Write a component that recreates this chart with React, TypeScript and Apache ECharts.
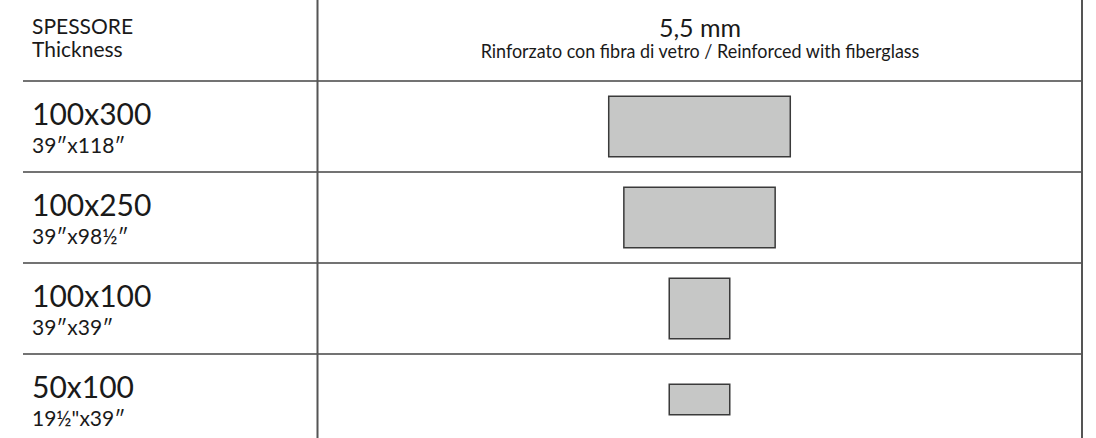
import React, { useEffect, useRef } from "react";
import * as echarts from "echarts";

const sizesMetric = ["100x300", "100x250", "100x100", "50x100"];
const sizesImperial = ["39″x118″", "39″x98½″", "39″x39″", "19½\"x39″"];
const heightsCm = [100, 100, 100, 50];
const widthsCm = [300, 250, 100, 100];

const headerLeft = ["SPESSORE", "Thickness"];
const headerTitle = "5,5 mm";
const headerSubtitle = "Rinforzato con fibra di vetro / Reinforced with fiberglass";

const FONT = "Lato";
const INK = "#1a1a1a";

export default function App() {
  const ref = useRef<HTMLDivElement>(null);
  useEffect(() => {
    if (!ref.current) return;
    const chart = echarts.init(ref.current, undefined, { renderer: "svg" });
    const rows = sizesMetric.map((_, i) => [0, i, widthsCm[i], heightsCm[i]]);
    const hLines = [81, 172, 263, 354].map((y) => ({
      type: "line",
      shape: { x1: 23, y1: y, x2: 1082, y2: y },
      style: { stroke: "#444", lineWidth: 1.5 },
      silent: true,
    }));
    const vLines = [317.5, 1082].map((x) => ({
      type: "line",
      shape: { x1: x, y1: 0, x2: x, y2: 438 },
      style: { stroke: "#555", lineWidth: 2 },
      silent: true,
    }));
    chart.setOption({
      animation: false,
      backgroundColor: "#ffffff",
      textStyle: { fontFamily: FONT },
      grid: {
        left: 317,
        top: 81,
        width: 765,
        height: 364,
        containLabel: false,
        outerBoundsMode: "none",
      },
      xAxis: {
        type: "value",
        min: -632,
        max: 632,
        show: false,
      },
      yAxis: {
        type: "category",
        inverse: true,
        data: sizesMetric,
        axisLine: { show: false },
        axisTick: { show: false },
        splitLine: { show: false },
        axisLabel: {
          interval: 0,
          align: "left",
          margin: 285,
          padding: [6, 0, 0, 0],
          formatter: (_v: string, i: number) =>
            `{a|${sizesMetric[i]}}\n{b|${sizesImperial[i]}}`,
          rich: {
            a: { fontSize: 30, lineHeight: 30, color: INK, fontFamily: FONT },
            b: { fontSize: 21, lineHeight: 33, color: INK, fontFamily: FONT },
          },
        },
      },
      graphic: [
        ...hLines,
        ...vLines,
        {
          type: "text",
          x: 32,
          y: 25.5,
          style: { text: headerLeft[0], fontSize: 21, fontFamily: FONT, fill: INK, verticalAlign: "middle" },
        },
        {
          type: "text",
          x: 32,
          y: 48.5,
          style: { text: headerLeft[1], fontSize: 21, fontFamily: FONT, fill: INK, verticalAlign: "middle" },
        },
        {
          type: "text",
          x: 700,
          y: 27,
          style: { text: headerTitle, fontSize: 25, fontFamily: FONT, fill: INK, align: "center", verticalAlign: "middle" },
        },
        {
          type: "text",
          x: 700,
          y: 50.5,
          scaleX: 0.945,
          style: { text: headerSubtitle, fontSize: 19, fontFamily: FONT, fill: INK, align: "center", verticalAlign: "middle" },
        },
      ],
      series: [
        {
          type: "custom",
          encode: { x: 0, y: 1 },
          data: rows,
          renderItem: (_params: any, api: any) => {
            const row = api.value(1);
            const w = api.value(2);
            const h = api.value(3);
            const c = api.coord([0, row]);
            const sw = api.size([w, 0])[0];
            const sh = api.size([h, 0])[0];
            return {
              type: "rect",
              shape: { x: c[0] - sw / 2, y: c[1] - sh / 2, width: sw, height: sh },
              style: { fill: "#c6c7c6", stroke: "#3a3a3a", lineWidth: 1.5 },
            };
          },
        },
      ],
    });
    return () => chart.dispose();
  }, []);
  return (
    <div
      ref={ref}
      style={{ position: "absolute", left: 0, top: 0, width: 1096, height: 438 }}
    />
  );
}
